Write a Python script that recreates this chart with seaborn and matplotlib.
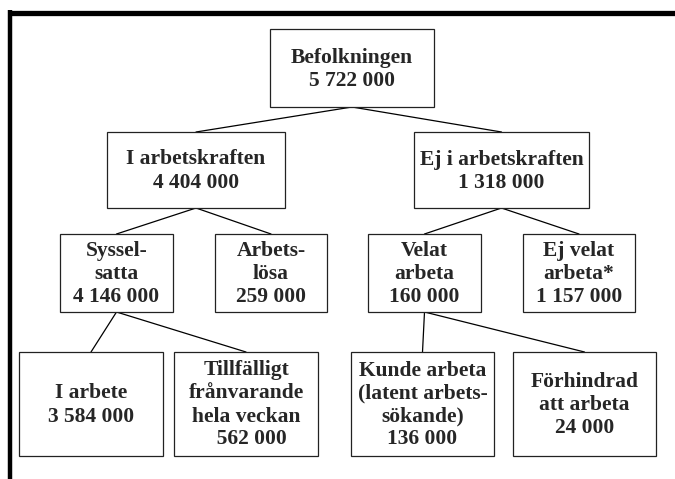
import matplotlib
matplotlib.use("Agg")
import matplotlib.pyplot as plt
import seaborn as sns
import pandas as pd
from matplotlib.patches import Rectangle

# Data: the population tree (labels, numbers, parent of each node)
labels = ["Befolkningen", "I arbetskraften", "Ej i arbetskraften",
          "Syssel-\nsatta", "Arbets-\nlösa", "Velat\narbeta", "Ej velat\narbeta*",
          "I arbete", "Tillfälligt\nfrånvarande\nhela veckan",
          "Kunde arbeta\n(latent arbets-\nsökande)", "Förhindrad\natt arbeta"]
values = [5722000, 4404000, 1318000, 4146000, 259000, 160000, 1157000,
          3584000, 562000, 136000, 24000]
parents = [None, 0, 0, 1, 1, 2, 2, 3, 3, 5, 5]

# Layout (pixels): vertical band per level, horizontal extent per box
level_y = [(29, 107), (132, 208), (234, 312), (352, 456)]
level_of = [0, 1, 1, 2, 2, 2, 2, 3, 3, 3, 3]
box_x = [(270, 434), (107, 285), (414, 589), (60, 173), (215, 327),
         (368, 481), (523, 635), (19, 163), (174, 318), (351, 494), (513, 656)]

def fmt(v):
    return f"{v:,}".replace(",", " ")

sns.set_style("white")
plt.rcParams['font.family'] = ['Liberation Serif', 'DejaVu Serif']

fig = plt.figure(figsize=(6.75, 4.79), dpi=100)
ax = fig.add_axes([0, 0, 1, 1])
ax.set_xlim(0, 675)
ax.set_ylim(479, 0)
ax.axis("off")

# connectors: parent bottom centre -> child top centre
rows = []
for i, p in enumerate(parents):
    if p is None:
        continue
    px = sum(box_x[p]) / 2
    cx = sum(box_x[i]) / 2
    rows.append({"edge": i, "x": px, "y": level_y[level_of[p]][1]})
    rows.append({"edge": i, "x": cx, "y": level_y[level_of[i]][0]})
edges = pd.DataFrame(rows)
sns.lineplot(data=edges, x="x", y="y", units="edge", estimator=None, sort=False,
             color="black", linewidth=0.9, ax=ax, legend=False)

# boxes and text
for i, lab in enumerate(labels):
    x0, x1 = box_x[i]
    y0, y1 = level_y[level_of[i]]
    ax.add_patch(Rectangle((x0, y0), x1 - x0, y1 - y0, facecolor="white",
                           edgecolor="#222222", linewidth=0.9, zorder=3))
    num = fmt(values[i])
    if i == 8:
        num = "  " + num
    ax.text((x0 + x1) / 2, (y0 + y1) / 2 + 1, lab + "\n" + num, ha="center", va="center",
            fontsize=15.5, fontweight="bold", linespacing=1.2, zorder=4)

# thick frame: top and left only
ax.plot([8, 675], [12.5, 12.5], color="black", linewidth=3.8, solid_capstyle="butt")
ax.plot([10, 10], [10, 479], color="black", linewidth=3.2, solid_capstyle="butt")

fig.savefig("out.png", dpi=100)
